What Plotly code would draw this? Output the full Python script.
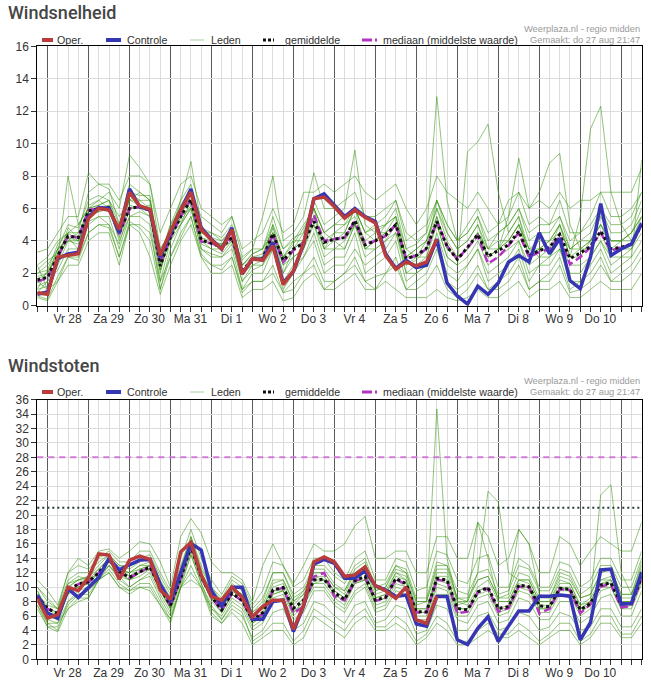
import plotly.graph_objects as go
import pandas as pd

# ---------------- data ----------------
times = pd.date_range("2020-08-27 18:00", periods=60, freq="6h")
day_starts = pd.date_range("2020-08-28", periods=15, freq="D")
day_labels = ["Vr 28", "Za 29", "Zo 30", "Ma 31", "Di 1", "Wo 2", "Do 3",
              "Vr 4", "Za 5", "Zo 6", "Ma 7", "Di 8", "Wo 9", "Do 10", ""]

# Windsnelheid (top)
oper_wind = [0.8, 0.7, 3.0, 3.1, 3.2, 5.4, 6.0, 5.9, 4.7, 7.0,
             6.15, 5.95, 3.1, 4.6, 5.9, 7.0, 4.7, 4.05, 3.5, 4.7,
             1.95, 2.9, 2.8, 3.7, 1.3, 2.15, 3.85, 6.6, 6.7, 6.1,
             5.4, 5.9, 5.45, 5.1, 3.1, 2.25, 2.7, 2.45, 2.7, 4.1]
ctrl_wind = [0.7, 0.85, 2.9, 3.2, 3.3, 5.5, 6.05, 6.0, 4.5, 7.2,
             6.1, 5.9, 3.0, 4.5, 5.9, 7.2, 4.8, 4.1, 3.5, 4.8,
             1.95, 2.9, 2.85, 3.9, 1.4, 2.1, 3.8, 6.6, 6.9, 6.2,
             5.5, 6.0, 5.5, 5.2, 3.2, 2.3, 2.8, 2.35, 2.5, 4.1,
             1.4, 0.6, 0.1, 1.2, 0.7, 1.4, 2.7, 3.1, 2.7, 4.5,
             3.2, 4.15, 1.55, 1.05, 3.0, 6.3, 3.1, 3.5, 3.8, 5.1]
mean_wind = [1.6, 1.75, 3.1, 4.3, 4.2, 5.85, 6.0, 6.05, 4.5, 6.0,
             6.1, 5.9, 2.45, 4.25, 5.5, 6.55, 4.05, 3.85, 3.6, 4.2,
             2.2, 2.8, 2.9, 4.45, 2.8, 3.5, 3.85, 5.2, 3.9, 4.1,
             4.2, 5.25, 3.75, 4.0, 4.35, 5.0, 2.9, 3.1, 3.55, 5.2,
             3.65, 2.85, 3.6, 4.4, 3.05, 3.4, 3.75, 4.6, 3.1, 3.4,
             3.6, 4.4, 2.9, 3.25, 3.65, 4.6, 3.5, 3.6, 3.8, 5.0]
median_wind = [1.5, 1.7, 3.0, 4.3, 4.2, 5.9, 6.0, 6.0, 4.4, 6.0,
               6.1, 5.9, 2.6, 4.2, 5.5, 6.6, 3.95, 3.85, 3.6, 4.2,
               2.1, 2.8, 2.9, 4.4, 2.7, 3.4, 3.9, 5.6, 4.0, 4.1,
               4.2, 5.2, 3.8, 4.0, 4.3, 5.0, 2.9, 3.1, 3.5, 5.2,
               3.7, 2.85, 3.6, 4.3, 2.6, 3.0, 3.7, 4.5, 3.0, 3.3,
               3.5, 4.3, 2.55, 3.0, 3.6, 4.5, 3.4, 3.6, 3.8, 5.0]
members_wind = [
    [2.0, 2.5, 3.5, 5.0, 4.8, 6.5, 6.8, 6.5, 5.0, 7.5, 7.0, 6.5, 3.0, 5.0, 6.5, 7.5, 4.5, 4.5, 4.0, 4.8,
     2.5, 3.2, 3.5, 5.5, 3.5, 4.2, 4.5, 6.0, 4.5, 5.0, 5.5, 6.0, 4.5, 4.8, 5.0, 5.5, 3.5, 3.8, 4.5, 12.9,
     6.5, 4.0, 4.5, 5.5, 3.5, 4.5, 5.0, 6.0, 4.0, 4.5, 4.5, 5.5, 3.5, 4.0, 4.5, 6.0, 4.5, 4.5, 5.0, 6.5],
    [0.6, 0.4, 1.8, 3.0, 2.8, 4.5, 5.0, 4.8, 3.0, 5.2, 4.8, 4.0, 1.0, 3.0, 4.2, 5.5, 3.2, 2.5, 2.2, 3.0,
     0.8, 1.5, 1.5, 2.5, 0.8, 1.5, 2.0, 3.0, 1.5, 1.5, 2.0, 3.0, 1.5, 1.8, 2.0, 2.5, 1.0, 1.0, 1.5, 2.5,
     1.0, 0.5, 1.0, 2.0, 1.0, 1.0, 1.5, 2.5, 1.0, 1.5, 1.5, 2.5, 0.8, 1.0, 1.5, 2.5, 1.5, 1.5, 2.0, 3.0],
    [1.2, 1.5, 3.0, 8.0, 5.0, 6.0, 6.5, 7.0, 6.0, 9.3, 8.5, 7.5, 3.5, 4.5, 5.0, 6.0, 4.0, 3.5, 3.2, 4.0,
     2.0, 2.5, 2.5, 4.0, 2.0, 3.0, 3.5, 5.5, 3.5, 3.5, 4.0, 5.0, 3.0, 3.5, 4.0, 4.5, 2.5, 2.8, 3.5, 5.0,
     3.0, 2.5, 9.5, 10.1, 11.2, 7.0, 4.5, 5.5, 3.5, 3.0, 3.0, 4.0, 2.5, 2.5, 3.0, 4.0, 3.0, 3.0, 3.5, 4.5],
    [2.5, 3.0, 4.0, 4.5, 4.5, 7.0, 7.5, 7.2, 5.0, 7.0, 6.5, 6.0, 2.0, 4.5, 6.5, 8.9, 5.0, 4.0, 3.5, 4.5,
     2.0, 3.0, 3.0, 5.0, 2.5, 3.5, 4.5, 6.5, 5.0, 5.5, 6.0, 9.6, 5.0, 4.5, 5.0, 6.0, 3.5, 3.0, 4.0, 6.0,
     4.5, 3.5, 4.0, 5.0, 3.0, 3.5, 4.0, 5.0, 3.5, 4.0, 4.0, 5.0, 3.0, 3.5, 4.0, 5.0, 4.0, 4.0, 4.5, 5.5],
    [1.0, 1.2, 2.5, 4.0, 4.0, 5.5, 5.8, 6.0, 4.2, 6.2, 6.0, 5.5, 2.5, 4.0, 5.0, 6.5, 3.8, 3.5, 3.5, 4.0,
     1.5, 2.5, 2.8, 4.5, 2.5, 3.0, 3.5, 5.0, 3.0, 3.5, 3.5, 5.0, 3.5, 3.5, 4.0, 5.0, 2.0, 2.5, 3.0, 5.5,
     3.5, 3.0, 3.5, 4.5, 3.0, 3.5, 5.5, 9.1, 6.0, 7.0, 8.8, 9.4, 5.0, 3.5, 3.5, 4.5, 3.0, 3.5, 3.5, 5.0],
    [1.8, 2.0, 3.5, 4.2, 4.0, 5.8, 6.0, 6.2, 4.8, 6.0, 6.2, 6.0, 2.2, 4.5, 5.8, 6.8, 4.2, 4.0, 3.8, 4.5,
     2.5, 3.0, 3.2, 4.8, 3.0, 4.0, 4.0, 5.0, 3.5, 4.0, 3.5, 5.0, 3.5, 4.0, 4.5, 5.0, 2.5, 3.0, 3.0, 5.0,
     3.0, 2.5, 3.0, 4.0, 2.5, 3.0, 3.5, 4.0, 2.5, 3.0, 3.5, 4.0, 3.0, 5.5, 10.9, 12.3, 7.0, 5.0, 4.0, 5.0],
    [1.5, 1.0, 2.8, 4.8, 4.2, 6.2, 6.5, 6.0, 4.0, 5.5, 5.8, 5.5, 1.5, 4.0, 5.5, 6.0, 3.5, 3.0, 3.0, 3.5,
     1.0, 2.0, 2.0, 3.5, 1.5, 2.5, 3.0, 4.5, 2.5, 3.0, 3.0, 4.5, 2.0, 2.5, 3.0, 4.0, 1.5, 2.0, 2.5, 4.5,
     2.5, 2.0, 2.5, 3.5, 2.0, 2.5, 3.0, 4.0, 2.0, 2.5, 3.0, 3.5, 2.0, 2.0, 3.0, 4.0, 2.5, 3.0, 3.0, 4.0],
    [2.2, 2.8, 3.2, 4.5, 5.0, 6.0, 6.2, 6.5, 5.5, 6.5, 6.5, 6.5, 3.0, 5.0, 6.0, 7.0, 5.5, 5.0, 4.5, 5.5,
     3.0, 3.5, 5.5, 8.0, 4.0, 4.5, 5.5, 8.2, 6.0, 6.0, 6.5, 7.0, 5.5, 5.5, 6.0, 6.5, 4.5, 4.0, 4.5, 6.5,
     5.0, 4.0, 4.5, 5.5, 4.0, 4.5, 5.0, 6.0, 4.5, 5.0, 5.0, 5.5, 4.0, 4.5, 5.0, 6.0, 5.0, 5.0, 5.5, 7.0],
    [0.8, 1.5, 2.2, 3.5, 3.5, 5.0, 5.5, 5.5, 3.5, 5.5, 5.5, 5.0, 1.0, 3.5, 5.0, 6.0, 3.5, 3.2, 3.0, 3.8,
     1.5, 2.2, 2.5, 3.5, 1.0, 2.0, 3.0, 4.0, 2.0, 2.5, 2.5, 3.5, 2.5, 3.0, 3.5, 4.5, 2.0, 2.0, 2.5, 4.0,
     2.0, 1.5, 2.5, 3.5, 1.5, 2.0, 2.5, 3.5, 1.5, 2.5, 2.5, 3.5, 1.5, 1.5, 2.5, 3.5, 2.0, 2.5, 3.0, 9.0],
    [1.4, 1.8, 3.5, 4.0, 4.5, 5.5, 6.0, 5.8, 4.5, 6.5, 7.0, 6.5, 3.5, 4.5, 5.2, 6.2, 4.0, 3.8, 3.8, 4.2,
     2.2, 2.8, 3.0, 4.2, 3.0, 3.5, 4.0, 5.5, 4.0, 4.5, 5.0, 5.5, 4.0, 4.5, 4.5, 5.5, 3.0, 3.5, 4.0, 6.0,
     4.0, 3.0, 3.5, 4.5, 3.5, 4.0, 4.0, 5.0, 3.5, 3.5, 4.0, 5.0, 3.5, 3.5, 4.0, 5.5, 4.0, 4.0, 4.5, 5.5],
    [2.5, 1.0, 1.5, 2.5, 2.5, 4.0, 4.5, 4.5, 2.5, 5.0, 4.5, 3.0, 0.7, 2.5, 4.0, 5.0, 3.0, 2.0, 2.0, 2.5,
     0.5, 1.0, 1.0, 1.5, 0.3, 0.5, 1.5, 2.0, 1.0, 1.0, 1.5, 2.0, 1.0, 1.0, 1.5, 1.0, 0.5, 0.5, 0.5, 1.0,
     0.5, 0.3, 0.5, 1.0, 0.5, 0.5, 1.0, 1.5, 0.5, 1.0, 1.0, 1.5, 0.5, 0.5, 1.0, 1.5, 1.0, 1.0, 1.0, 2.0],
    [1.0, 2.2, 2.8, 4.2, 3.5, 5.2, 5.5, 5.0, 3.8, 6.0, 6.0, 6.2, 2.8, 4.2, 5.8, 6.5, 4.5, 4.2, 4.0, 4.5,
     2.8, 3.5, 3.5, 5.0, 3.5, 4.0, 5.0, 6.0, 4.5, 4.0, 4.5, 6.0, 4.5, 5.0, 5.5, 6.5, 4.0, 4.5, 5.0, 6.5,
     5.0, 4.0, 5.0, 6.0, 4.5, 5.0, 5.5, 7.0, 5.0, 5.5, 5.0, 6.5, 4.5, 4.5, 5.5, 7.0, 5.5, 5.5, 6.0, 7.0],
    [3.3, 3.5, 4.5, 5.5, 5.5, 8.2, 7.5, 7.5, 6.5, 8.0, 8.0, 7.5, 4.5, 6.0, 7.5, 8.0, 6.0, 5.5, 5.0, 5.5,
     3.5, 4.0, 4.5, 6.0, 4.5, 5.0, 7.0, 7.0, 7.5, 7.0, 7.5, 8.0, 7.0, 6.5, 7.0, 7.5, 6.0, 5.0, 6.0, 8.0,
     7.0, 6.5, 6.0, 7.0, 6.0, 5.0, 6.5, 7.0, 6.0, 6.5, 6.0, 7.0, 6.0, 6.5, 6.5, 7.0, 7.0, 7.0, 7.0, 8.5],
    [0.5, 0.3, 1.5, 3.0, 3.0, 4.5, 5.0, 5.0, 3.0, 5.0, 5.0, 4.5, 1.5, 3.0, 4.5, 5.5, 3.0, 2.5, 2.5, 3.0,
     1.0, 1.5, 1.5, 2.0, 0.8, 1.0, 2.0, 2.5, 1.0, 1.5, 2.0, 2.5, 1.5, 1.0, 2.0, 3.0, 1.0, 1.5, 2.0, 3.5,
     1.5, 1.0, 1.5, 2.5, 1.0, 1.5, 2.0, 3.0, 1.0, 1.5, 2.0, 3.0, 1.0, 1.5, 2.0, 3.0, 1.5, 2.0, 2.5, 3.5],
    [2.0, 2.2, 3.8, 4.5, 4.0, 6.0, 6.2, 6.5, 4.5, 7.0, 6.8, 6.8, 2.5, 4.8, 6.2, 7.2, 4.8, 4.5, 4.2, 5.0,
     2.5, 3.2, 3.5, 4.5, 3.0, 3.8, 4.8, 6.0, 3.5, 4.5, 4.5, 6.0, 3.5, 4.0, 5.0, 5.5, 3.0, 3.5, 4.0, 5.5,
     3.5, 3.0, 3.5, 4.5, 3.0, 3.5, 4.5, 5.5, 3.0, 3.5, 3.5, 5.0, 3.0, 3.0, 4.0, 5.0, 3.5, 4.0, 4.0, 5.5],
    [1.6, 2.0, 3.2, 4.0, 3.8, 5.6, 5.8, 6.0, 4.8, 6.5, 6.2, 5.8, 2.2, 4.2, 5.5, 7.0, 4.2, 3.8, 3.8, 4.5,
     2.0, 2.8, 3.0, 4.5, 2.0, 3.5, 4.0, 6.0, 4.5, 5.0, 5.0, 6.0, 4.5, 4.0, 4.5, 5.0, 3.0, 3.0, 3.5, 6.5,
     4.5, 3.5, 4.0, 5.0, 3.5, 3.5, 4.0, 5.0, 3.0, 3.5, 4.0, 4.5, 3.5, 4.0, 4.0, 5.0, 4.0, 4.0, 4.5, 6.0],
]

# Windstoten (bottom)
oper_gust = [8.45, 5.7, 6.2, 10.0, 9.5, 11.35, 14.6, 14.45, 11.1, 13.75,
             14.3, 13.85, 9.6, 8.3, 14.9, 16.2, 11.7, 8.7, 8.2, 10.0,
             8.6, 5.9, 7.3, 8.2, 8.2, 4.15, 7.5, 13.5, 14.2, 13.5,
             11.5, 11.7, 12.8, 10.2, 9.5, 8.45, 10.0, 5.45, 5.0, 8.75]
ctrl_gust = [8.9, 6.4, 5.7, 9.8, 8.55, 10.0, 11.35, 14.0, 12.4, 13.1,
             13.75, 13.85, 10.4, 8.0, 11.9, 16.05, 15.15, 9.5, 7.4, 10.0,
             10.0, 5.55, 5.55, 8.0, 8.2, 3.85, 7.4, 13.2, 13.85, 13.3,
             11.25, 11.25, 12.3, 10.2, 9.6, 8.7, 8.9, 4.9, 4.6, 8.7,
             8.7, 2.7, 2.05, 4.3, 5.9, 2.45, 4.6, 6.7, 6.7, 8.75,
             8.75, 8.9, 8.75, 2.7, 5.1, 12.4, 12.5, 7.65, 7.75, 12.1]
mean_gust = [8.7, 7.05, 6.35, 9.5, 10.45, 10.75, 12.0, 13.75, 12.15, 11.35,
             12.15, 12.8, 9.85, 7.5, 11.2, 15.6, 11.45, 8.7, 6.85, 9.15,
             8.2, 5.45, 6.45, 9.6, 9.95, 7.05, 8.2, 11.0, 11.1, 9.25,
             8.3, 10.9, 11.5, 8.2, 8.6, 11.2, 10.5, 6.6, 6.6, 11.2,
             11.0, 7.05, 6.85, 9.35, 9.95, 7.05, 7.3, 10.3, 10.05, 7.4,
             7.3, 9.85, 9.7, 6.85, 7.75, 10.3, 10.6, 7.65, 7.75, 11.45]
median_gust = [8.6, 7.0, 6.3, 9.5, 10.4, 10.7, 12.0, 13.8, 12.0, 11.3,
               12.1, 12.8, 9.8, 7.4, 11.2, 15.7, 11.4, 8.6, 6.8, 9.1,
               8.1, 5.4, 6.3, 9.5, 9.9, 6.4, 7.3, 11.45, 12.0, 8.7,
               8.2, 10.8, 11.4, 8.1, 8.5, 11.1, 10.4, 6.5, 6.5, 11.0,
               10.9, 6.4, 6.6, 9.3, 9.8, 6.6, 7.1, 10.1, 10.0, 6.35,
               7.0, 9.7, 9.6, 6.4, 7.6, 10.1, 10.4, 7.2, 7.4, 11.2]
members_gust = [
    [9.5, 6.5, 6.0, 10.5, 11.5, 11.0, 12.5, 14.0, 12.5, 12.0, 13.0, 13.5, 10.5, 8.0, 12.0, 16.5, 12.0, 9.5, 7.5, 10.0,
     9.0, 6.0, 7.0, 10.5, 11.0, 8.0, 9.0, 12.0, 12.0, 10.0, 9.0, 12.0, 12.5, 9.0, 9.5, 12.0, 11.5, 7.5, 8.0, 34.7,
     14.0, 8.0, 7.5, 10.0, 11.0, 8.0, 8.0, 11.0, 11.0, 8.0, 8.0, 10.5, 10.5, 7.5, 8.5, 11.0, 11.5, 8.5, 8.5, 12.5],
    [7.0, 4.5, 3.8, 7.0, 8.0, 8.5, 11.0, 12.0, 10.0, 9.0, 10.0, 9.5, 7.5, 5.0, 10.0, 12.0, 10.0, 6.0, 5.0, 6.5,
     5.0, 2.0, 3.0, 4.0, 4.0, 2.0, 3.0, 6.0, 5.0, 4.0, 3.0, 5.0, 6.0, 4.0, 4.0, 5.0, 4.0, 2.0, 3.0, 5.0,
     4.0, 2.0, 2.0, 3.0, 4.0, 3.0, 3.0, 4.0, 3.0, 2.0, 3.0, 4.0, 4.0, 2.0, 3.0, 5.0, 5.0, 3.0, 3.0, 5.0],
    [11.0, 9.5, 7.5, 12.0, 14.0, 13.0, 15.0, 15.3, 14.0, 15.0, 16.3, 16.0, 13.5, 10.0, 17.0, 19.5, 17.5, 13.5, 12.0, 12.0,
     11.0, 8.0, 13.0, 16.0, 13.0, 10.5, 13.0, 16.0, 15.0, 15.0, 16.0, 18.5, 19.8, 14.0, 14.0, 15.0, 15.0, 12.0, 12.0, 17.0,
     17.0, 14.0, 14.0, 19.0, 17.0, 13.0, 14.0, 18.0, 16.0, 12.0, 12.0, 17.0, 16.0, 13.0, 15.0, 17.0, 16.0, 15.0, 15.0, 19.0],
    [9.0, 7.0, 6.5, 9.0, 10.5, 11.0, 12.0, 13.5, 12.0, 11.0, 12.0, 13.0, 10.0, 7.5, 11.5, 15.5, 11.5, 9.0, 7.0, 9.5,
     8.5, 5.5, 6.5, 9.5, 10.0, 7.0, 8.5, 11.5, 11.0, 9.5, 8.5, 11.0, 12.0, 8.5, 9.0, 11.5, 11.0, 7.0, 7.0, 11.0,
     11.0, 7.5, 8.0, 12.0, 23.3, 21.8, 12.0, 11.0, 10.5, 7.5, 7.5, 10.0, 10.0, 7.0, 8.0, 10.5, 11.0, 8.0, 8.0, 12.0],
    [8.0, 6.0, 5.5, 9.5, 10.0, 10.5, 12.0, 14.0, 12.5, 11.5, 12.5, 13.0, 10.0, 7.0, 11.0, 15.0, 11.0, 8.5, 6.5, 9.0,
     8.0, 5.0, 6.0, 9.0, 9.5, 6.5, 8.0, 10.5, 11.0, 9.0, 8.0, 10.5, 11.0, 8.0, 8.5, 11.0, 10.0, 6.5, 6.5, 11.5,
     11.5, 7.0, 7.0, 9.5, 10.0, 7.0, 7.5, 10.5, 10.0, 7.5, 7.0, 10.0, 9.5, 7.0, 8.0, 22.8, 24.2, 12.0, 9.0, 12.0],
    [10.0, 8.0, 7.0, 11.0, 12.0, 12.0, 13.5, 14.5, 13.0, 13.0, 14.0, 14.5, 11.5, 9.0, 13.0, 17.0, 13.0, 10.0, 8.5, 11.0,
     10.0, 7.0, 8.5, 12.0, 12.0, 9.0, 10.0, 13.0, 13.0, 11.5, 10.5, 13.0, 14.0, 10.0, 10.5, 13.0, 12.5, 8.5, 8.5, 13.5,
     13.0, 9.5, 9.0, 12.0, 12.5, 9.0, 9.5, 13.0, 12.5, 9.5, 9.5, 12.5, 12.0, 9.0, 10.0, 13.0, 13.0, 10.0, 10.0, 14.0],
    [8.5, 5.5, 5.0, 8.0, 9.5, 10.0, 11.5, 13.0, 11.5, 10.0, 11.0, 11.5, 8.5, 6.0, 10.0, 14.5, 10.5, 7.5, 5.5, 8.0,
     7.0, 4.0, 5.0, 8.0, 8.5, 5.5, 6.5, 9.5, 9.5, 7.5, 6.5, 9.0, 10.0, 6.5, 7.0, 9.5, 9.0, 5.0, 5.0, 9.0,
     9.0, 5.5, 5.0, 7.5, 8.0, 5.0, 5.5, 8.5, 8.0, 5.5, 5.5, 8.0, 8.0, 5.0, 6.0, 8.5, 9.0, 6.0, 6.0, 9.5],
    [9.0, 7.5, 7.0, 10.0, 11.0, 11.5, 12.5, 14.0, 12.0, 12.0, 12.5, 13.0, 10.5, 8.0, 11.5, 16.0, 12.0, 9.0, 7.0, 9.5,
     8.5, 6.0, 7.0, 10.0, 10.5, 7.5, 9.0, 11.5, 11.5, 9.5, 8.5, 11.5, 12.0, 8.5, 9.0, 12.0, 11.0, 7.0, 7.0, 12.0,
     12.0, 8.0, 8.0, 19.0, 14.0, 8.0, 8.0, 11.0, 11.0, 8.0, 8.0, 11.0, 10.5, 7.5, 8.0, 11.0, 11.0, 8.0, 8.0, 12.0],
    [7.5, 4.5, 4.5, 7.5, 9.0, 9.5, 11.0, 13.0, 11.0, 10.0, 11.0, 12.0, 9.0, 6.5, 10.5, 14.5, 10.5, 7.0, 6.0, 8.5,
     7.5, 4.5, 5.5, 8.5, 9.0, 6.0, 7.5, 10.0, 10.0, 8.0, 7.0, 9.5, 10.5, 7.0, 7.5, 10.0, 9.5, 5.5, 5.5, 10.0,
     9.5, 6.0, 6.0, 8.5, 9.0, 6.0, 6.5, 9.5, 9.0, 6.5, 6.5, 9.0, 9.0, 6.0, 7.0, 9.5, 10.0, 7.0, 7.0, 10.5],
    [9.0, 7.0, 6.5, 10.0, 11.0, 11.0, 12.0, 13.5, 12.5, 12.0, 13.0, 13.0, 10.0, 8.0, 12.0, 16.0, 12.0, 9.5, 7.5, 10.0,
     9.0, 6.5, 8.0, 12.0, 12.0, 8.5, 9.5, 12.5, 12.5, 10.5, 9.5, 12.0, 13.0, 9.5, 10.0, 13.0, 12.0, 8.0, 8.0, 13.0,
     13.0, 8.5, 8.5, 11.0, 11.5, 8.5, 9.0, 18.0, 16.0, 9.0, 8.5, 12.0, 11.5, 8.5, 9.0, 12.0, 12.5, 9.0, 9.0, 13.0],
    [8.0, 5.0, 4.0, 8.0, 9.0, 9.0, 11.0, 12.5, 10.5, 9.5, 10.5, 10.5, 8.0, 5.5, 10.0, 13.0, 10.0, 6.5, 5.0, 7.0,
     6.0, 3.0, 4.0, 6.5, 7.0, 4.0, 5.0, 8.0, 7.5, 6.0, 5.0, 7.5, 8.0, 5.0, 5.5, 7.5, 7.0, 3.5, 4.0, 7.5,
     7.0, 4.0, 4.0, 6.0, 6.5, 4.0, 4.5, 6.5, 6.0, 4.0, 4.5, 6.5, 6.0, 4.0, 4.5, 7.0, 7.0, 4.5, 4.5, 7.0],
    [10.0, 8.5, 7.0, 12.0, 13.0, 12.5, 14.0, 15.0, 13.5, 13.5, 15.0, 15.0, 12.0, 9.5, 14.0, 18.0, 14.0, 11.0, 9.0, 11.5,
     10.5, 7.5, 9.5, 13.5, 13.0, 10.0, 11.0, 14.0, 14.0, 12.0, 11.0, 14.0, 15.0, 11.0, 11.0, 14.0, 13.5, 9.5, 10.0, 15.0,
     14.5, 11.0, 10.5, 14.0, 14.5, 10.0, 10.0, 14.0, 13.0, 10.0, 10.0, 13.5, 13.0, 10.0, 11.0, 14.0, 14.0, 11.0, 11.0, 15.0],
    [8.5, 6.5, 6.0, 9.5, 10.0, 10.5, 12.0, 13.5, 12.0, 11.0, 12.0, 12.5, 9.5, 7.0, 11.0, 15.5, 11.0, 8.5, 6.5, 9.0,
     8.0, 5.5, 6.0, 9.5, 9.5, 6.5, 8.0, 11.0, 11.0, 9.0, 8.0, 11.0, 11.0, 8.0, 8.5, 11.0, 10.5, 6.5, 6.5, 11.0,
     10.5, 7.0, 7.0, 9.5, 10.0, 7.0, 7.0, 10.0, 10.0, 7.0, 7.0, 10.0, 9.5, 7.0, 7.5, 10.5, 10.5, 7.5, 7.5, 11.0],
    [7.5, 5.0, 5.0, 7.0, 8.5, 8.5, 11.0, 12.0, 10.0, 9.5, 10.0, 10.0, 7.5, 5.5, 10.0, 11.0, 10.0, 7.0, 5.5, 7.5,
     6.5, 2.5, 3.5, 5.0, 5.0, 2.5, 4.0, 7.0, 6.0, 5.0, 4.0, 6.0, 7.0, 4.5, 4.5, 6.0, 5.0, 2.5, 3.5, 6.0,
     5.0, 2.5, 2.5, 4.0, 5.0, 3.5, 3.5, 5.0, 4.0, 2.5, 3.5, 5.0, 5.0, 2.5, 3.5, 6.0, 6.0, 3.5, 3.5, 6.0],
    [9.5, 7.0, 6.0, 10.5, 11.0, 11.5, 13.0, 14.5, 13.0, 12.5, 13.5, 14.0, 11.0, 8.5, 12.5, 17.0, 12.5, 10.0, 8.0, 10.5,
     9.5, 6.5, 7.5, 11.0, 11.0, 8.0, 9.5, 12.0, 12.0, 10.0, 9.5, 12.5, 13.5, 9.5, 10.0, 12.5, 12.0, 8.0, 8.0, 12.5,
     12.5, 8.5, 8.0, 11.0, 11.5, 8.5, 8.5, 12.0, 11.5, 8.5, 8.5, 11.5, 11.0, 8.5, 9.0, 12.0, 12.5, 9.0, 9.0, 13.5],
    [8.0, 6.0, 5.5, 9.0, 10.0, 10.5, 11.5, 13.0, 11.5, 11.0, 11.5, 12.5, 9.5, 7.0, 11.0, 15.5, 11.5, 8.0, 6.5, 9.0,
     8.0, 5.0, 6.0, 9.0, 9.5, 6.5, 7.5, 10.5, 10.5, 8.5, 7.5, 10.5, 11.0, 7.5, 8.0, 10.5, 10.0, 6.0, 6.0, 10.5,
     10.0, 6.5, 6.5, 9.0, 9.5, 6.5, 7.0, 10.0, 9.5, 7.0, 7.0, 9.5, 9.5, 6.5, 7.5, 10.0, 10.0, 7.0, 7.5, 11.0],
]
gust_ref_median = 28
gust_ref_mean = 21

legend_labels = ["Oper.", "Controle", "Leden", "gemiddelde", "mediaan (middelste waarde)"]
titles = ["Windsnelheid", "Windstoten"]
credit_1 = "Weerplaza.nl - regio midden"
credit_2 = "Gemaakt: do 27 aug 21:47"

# ---------------- styles ----------------
W, H = 651, 686
C_OPER = "#b83c3c"
C_CTRL = "#3636b4"
C_MEMB = "rgba(55,150,15,0.55)"
C_MEAN = "#111111"
C_MED = "#b434c4"
FONT = "Liberation Sans, Arial, sans-serif"


def px_x(p):
    return p / W


def px_y(p):
    return 1 - p / H


X_DOM = [px_x(37.3), px_x(641.7)]
TOP_DOM = [px_y(305.7), px_y(46.3)]
BOT_DOM = [px_y(659.3), px_y(399.6)]

fig = go.Figure()


def add_panel(xa, ya, members, mean, median, ctrl, oper):
    for m in members:
        fig.add_trace(go.Scatter(x=times, y=m, mode="lines", xaxis=xa, yaxis=ya,
                                 line=dict(color=C_MEMB, width=1), showlegend=False,
                                 hoverinfo="skip"))
    fig.add_trace(go.Scatter(x=times, y=median, mode="lines", xaxis=xa, yaxis=ya,
                             line=dict(color=C_MED, width=2.5, dash="8px,4px"), showlegend=False))
    fig.add_trace(go.Scatter(x=times, y=mean, mode="lines", xaxis=xa, yaxis=ya,
                             line=dict(color=C_MEAN, width=3, dash="dot"), showlegend=False))
    fig.add_trace(go.Scatter(x=times[:len(ctrl)], y=ctrl, mode="lines", xaxis=xa, yaxis=ya,
                             line=dict(color=C_CTRL, width=3.5), showlegend=False))
    fig.add_trace(go.Scatter(x=times[:len(oper)], y=oper, mode="lines", xaxis=xa, yaxis=ya,
                             line=dict(color=C_OPER, width=3.5), showlegend=False))


add_panel("x", "y", members_wind, mean_wind, median_wind, ctrl_wind, oper_wind)
add_panel("x2", "y2", members_gust, mean_gust, median_gust, ctrl_gust, oper_gust)

# reference lines in the gust panel
fig.add_shape(type="line", xref="x2 domain", x0=0, x1=1, yref="y2",
              y0=gust_ref_median, y1=gust_ref_median,
              line=dict(color="#d27ad8", width=2, dash="6px,5px"))
fig.add_shape(type="line", xref="x2 domain", x0=0, x1=1, yref="y2",
              y0=gust_ref_mean, y1=gust_ref_mean,
              line=dict(color="#2a3a3a", width=2, dash="2px,3px"))

xr = [times[0], times[-1]]
tickfont = dict(family=FONT, size=12, color="#333")
LABEL_SHIFT = 20


def x_main(anchor):
    return dict(domain=X_DOM, anchor=anchor, type="date", range=xr,
                tickmode="array", tickvals=day_starts, ticktext=day_labels,
                ticklabelshift=LABEL_SHIFT, ticklabelstandoff=-3,
                ticks="outside", ticklen=5, tickcolor="#333", tickwidth=1,
                showgrid=True, gridcolor="#5a5a5a", gridwidth=1,
                minor=dict(tickmode="linear", tick0="2020-08-28", dtick=6 * 3600 * 1000,
                           ticks="outside", ticklen=5, tickcolor="#333",
                           showgrid=True, gridcolor="#dcdcdc", gridwidth=1),
                showline=True, mirror=True, linecolor="#000", linewidth=1,
                zeroline=False, tickfont=tickfont, fixedrange=True, automargin=False)


def y_axis(dom, top, anchor):
    return dict(domain=dom, anchor=anchor, range=[0, top],
                tickmode="linear", tick0=0, dtick=2,
                ticks="outside", ticklen=5, tickcolor="#333",
                showgrid=True, gridcolor="#dcdcdc", gridwidth=1,
                showline=True, mirror=True, linecolor="#000", linewidth=1,
                zeroline=False, tickfont=tickfont, fixedrange=True, automargin=False)


fig.update_layout(
    width=W, height=H, margin=dict(l=0, r=0, t=0, b=0, pad=0, autoexpand=False),
    paper_bgcolor="white", plot_bgcolor="white", showlegend=False,
    xaxis=x_main("y"), yaxis=y_axis(TOP_DOM, 16, "x"),
    xaxis2=x_main("y2"), yaxis2=y_axis(BOT_DOM, 36, "x2"),
)

# titles, credits and legends
legend_styles = [
    dict(color=C_OPER, width=4),
    dict(color=C_CTRL, width=4),
    dict(color="rgba(110,180,80,0.6)", width=1),
    dict(color=C_MEAN, width=3, dash="3px,2px"),
    dict(color=C_MED, width=3, dash="10px,3px,2px,20px"),
]
sw_x = [(42, 53), (106, 121), (190, 204), (263, 274), (362, 377)]
tx_x = [55, 125, 209, 283, 381]

for k, (title_y, leg_y, c1_y, c2_y) in enumerate([(13, 40, 29, 40), (365, 392, 381, 392)]):
    fig.add_annotation(text=titles[k], xref="paper", yref="paper", x=px_x(6), y=px_y(title_y),
                       xanchor="left", yanchor="middle", showarrow=False,
                       font=dict(family="Roboto, sans-serif", size=18, color="#454545", weight=500))
    fig.add_annotation(text=credit_1, xref="paper", yref="paper", x=px_x(642), y=px_y(c1_y),
                       xanchor="right", yanchor="middle", showarrow=False,
                       font=dict(family=FONT, size=9.3, color="#9a9a9a"))
    fig.add_annotation(text=credit_2, xref="paper", yref="paper", x=px_x(642), y=px_y(c2_y),
                       xanchor="right", yanchor="middle", showarrow=False,
                       font=dict(family=FONT, size=9.3, color="#9a9a9a"))
    for lab, st, (a, b), tx in zip(legend_labels, legend_styles, sw_x, tx_x):
        fig.add_shape(type="line", xref="paper", yref="paper",
                      x0=px_x(a), x1=px_x(b), y0=px_y(leg_y), y1=px_y(leg_y), line=st)
        fig.add_annotation(text=lab, xref="paper", yref="paper", x=px_x(tx), y=px_y(leg_y),
                           xanchor="left", yanchor="middle", showarrow=False,
                           font=dict(family=FONT, size=10.7, color="#333"))

fig.write_html("out.html", config={"displayModeBar": False},
               post_script="document.body.style.margin='0px';")
